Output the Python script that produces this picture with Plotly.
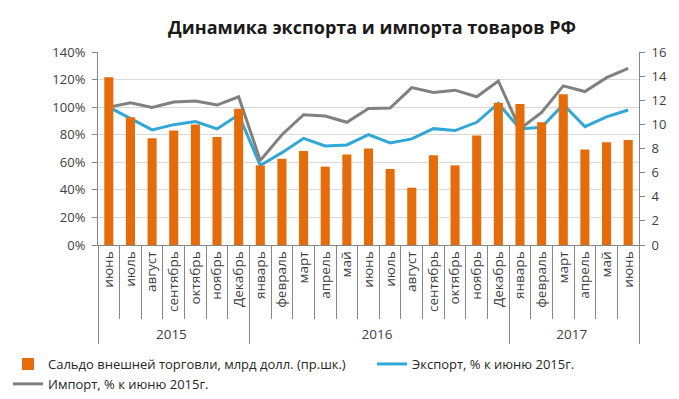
import plotly.graph_objects as go

years = ["2015"] * 7 + ["2016"] * 12 + ["2017"] * 6
months = ["июнь", "июль", "август", "сентябрь", "октябрь", "ноябрь", "Декабрь",
          "январь", "февраль", "март", "апрель", "май", "июнь", "июль", "август",
          "сентябрь", "октябрь", "ноябрь", "Декабрь",
          "январь", "февраль", "март", "апрель", "май", "июнь"]

saldo = [13.9, 10.6, 8.85, 9.5, 10.0, 8.95, 11.3,
         6.6, 7.15, 7.8, 6.5, 7.5, 8.0, 6.3, 4.75, 7.45, 6.6, 9.07, 11.8,
         11.68, 10.17, 12.5, 7.92, 8.52, 8.71]
export_pct = [100, 92, 83.5, 87.3, 89.5, 84.2, 94.5,
              57.7, 67, 77.4, 71.9, 72.6, 80, 74, 77, 84.4, 83, 89, 102.7,
              84.2, 85.4, 102, 85.9, 93, 97.9]
import_pct = [100, 103.2, 99.8, 103.7, 104.4, 101.5, 107.5,
              61.3, 80, 94.5, 93.6, 89, 99.1, 99.3, 114.2, 110.6, 112.3, 107.5, 119,
              84.2, 96.2, 115.4, 111.3, 121.4, 128.2]

left_ticks = [0, 20, 40, 60, 80, 100, 120, 140]
left_labels = [f"{v}%" for v in left_ticks]
right_ticks = [0, 2, 4, 6, 8, 10, 12, 14, 16]

# invisible zero-width space keeps repeated month names distinct per year,
# so the multicategory axis keeps chronological order
ZW = "\u200b"
month_keys = [m if y == "2015" else m + ZW for y, m in zip(years, months)]
x = [years, month_keys]

FONT = "Open Sans"
AX = "#868686"
TXT = "#404040"

# page body has an 8px margin: size the figure to the visible window
OFF = 8
W, H = 679 - OFF, 399 - OFF

fig = go.Figure()
fig.add_trace(go.Bar(x=x, y=saldo, yaxis="y2", name="Сальдо внешней торговли, млрд долл. (пр.шк.)",
                     marker=dict(color="#E46C0A", line=dict(width=0)), legend="legend"))
fig.add_trace(go.Scatter(x=x, y=export_pct, mode="lines", name="Экспорт, % к июню 2015г.",
                         line=dict(color="#2FA8D5", width=3), legend="legend2"))
fig.add_trace(go.Scatter(x=x, y=import_pct, mode="lines", name="Импорт, % к июню 2015г.",
                         line=dict(color="#808080", width=3), legend="legend"))

leg_y = 1 - (349 - OFF) / H
fig.update_layout(
    width=W, height=H,
    margin=dict(l=98 - OFF, r=40, t=52 - OFF, b=154),
    paper_bgcolor="white", plot_bgcolor="white",
    font=dict(family=FONT, size=12, color=TXT),
    bargap=0.58,
    title=dict(text="<b>Динамика экспорта и импорта товаров РФ</b>",
               x=(372 - OFF) / W, xref="container", xanchor="center",
               y=1 - (28 - OFF) / H, yref="container", yanchor="middle",
               font=dict(family=FONT, size=18, color="#1a1a1a")),
    xaxis=dict(type="multicategory", tickangle=-90, showline=True, linecolor=AX,
               ticks="outside", ticklen=73, tickcolor=AX, showgrid=False,
               showdividers=True, dividercolor=AX, dividerwidth=1, automargin=False,
               tickfont=dict(size=13.5, color=TXT)),
    yaxis=dict(range=[0, 140], tickvals=left_ticks, ticktext=left_labels,
               showline=True, linecolor=AX, ticks="outside", ticklen=5, tickcolor=AX,
               showgrid=True, gridcolor="#D9D9D9", zeroline=False, ticklabelstandoff=4,
               tickfont=dict(size=13, color=TXT)),
    yaxis2=dict(range=[0, 16], tickvals=right_ticks, overlaying="y", side="right",
                showline=True, linecolor=AX, ticks="outside", ticklen=5, tickcolor=AX,
                showgrid=False, zeroline=False, ticklabelstandoff=4,
                tickfont=dict(size=13, color=TXT)),
    legend=dict(orientation="h", xref="container", x=0.0, xanchor="left",
                yref="container", y=leg_y, yanchor="top",
                entrywidth=380, entrywidthmode="pixels",
                itemwidth=30, font=dict(size=13, color="#262626"),
                traceorder="normal", tracegroupgap=0, bgcolor="rgba(0,0,0,0)"),
    legend2=dict(orientation="h", xref="container", x=(372 - OFF) / W, xanchor="left",
                 yref="container", y=leg_y, yanchor="top",
                 itemwidth=30, font=dict(size=13, color="#262626"),
                 bgcolor="rgba(0,0,0,0)"),
)

fig.write_html("out.html")
